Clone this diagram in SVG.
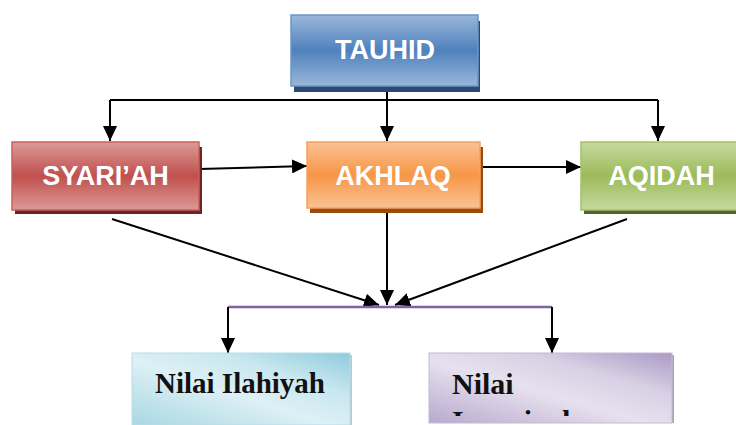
<svg xmlns="http://www.w3.org/2000/svg" width="736" height="425" viewBox="0 0 736 425">
<defs>
<linearGradient id="gBlue" x1="0" y1="0" x2="0" y2="1"><stop offset="0" stop-color="#9ab7da"/><stop offset="0.5" stop-color="#4f81bd"/><stop offset="1" stop-color="#9ab7da"/></linearGradient>
<linearGradient id="gRed" x1="0" y1="0" x2="0" y2="1"><stop offset="0" stop-color="#dc9a98"/><stop offset="0.5" stop-color="#c0504d"/><stop offset="1" stop-color="#dc9a98"/></linearGradient>
<linearGradient id="gOrange" x1="0" y1="0" x2="0" y2="1"><stop offset="0" stop-color="#fbc294"/><stop offset="0.5" stop-color="#f79646"/><stop offset="1" stop-color="#fbc294"/></linearGradient>
<linearGradient id="gGreen" x1="0" y1="0" x2="0" y2="1"><stop offset="0" stop-color="#c6d99f"/><stop offset="0.5" stop-color="#9bbb59"/><stop offset="1" stop-color="#c6d99f"/></linearGradient>
<linearGradient id="gCyan" x1="0" y1="1" x2="1" y2="0"><stop offset="0" stop-color="#a9d7e3"/><stop offset="0.45" stop-color="#ddf0f5"/><stop offset="0.7" stop-color="#c9e7ef"/><stop offset="1" stop-color="#8fcbdb"/></linearGradient>
<linearGradient id="gPurple" x1="0" y1="1" x2="1" y2="0"><stop offset="0" stop-color="#b9a9cd"/><stop offset="0.45" stop-color="#e6e1ee"/><stop offset="0.7" stop-color="#d8d0e4"/><stop offset="1" stop-color="#ab99c4"/></linearGradient>
<marker id="arr" markerUnits="userSpaceOnUse" markerWidth="16" markerHeight="14" refX="15" refY="7" orient="auto"><path d="M0,0 L15,7 L0,14 z" fill="#000"/></marker>
<clipPath id="clipIns"><rect x="429" y="353" width="243" height="63"/></clipPath>
</defs>
<style>
.lbl{font-family:"Liberation Sans",Arial,sans-serif;font-weight:bold;font-size:27px;fill:#fff;text-anchor:middle}
.ser{font-family:"Liberation Serif","Times New Roman",serif;font-weight:bold;font-size:30px;fill:#111}
.ln{stroke:#000;stroke-width:2;fill:none}
</style>
<g id="connectors">
<path class="ln" d="M387,86 V100"/>
<path class="ln" d="M110,100 H658"/>
<path class="ln" d="M110,100 V141" marker-end="url(#arr)"/>
<path class="ln" d="M387,100 V141" marker-end="url(#arr)"/>
<path class="ln" d="M658,100 V141" marker-end="url(#arr)"/>
<path class="ln" d="M199,169 L307,166" marker-end="url(#arr)"/>
<path class="ln" d="M480,167 L581,167" marker-end="url(#arr)"/>
<path class="ln" d="M112,219 L379,305" marker-end="url(#arr)"/>
<path class="ln" d="M387,213 V305" marker-end="url(#arr)"/>
<path class="ln" d="M627,219 L395,305" marker-end="url(#arr)"/>
<path d="M228,307 H552" stroke="#8064a2" stroke-width="2.5" fill="none"/>
<path class="ln" d="M228,307 V353" marker-end="url(#arr)"/>
<path class="ln" d="M552,307 V353" marker-end="url(#arr)"/>
</g>
<g id="tauhid">
<rect x="294" y="21" width="186" height="71" fill="#2b4a73"/>
<rect x="291" y="15" width="187" height="71" fill="url(#gBlue)" stroke="#6b95c9" stroke-width="1.5"/>
<text class="lbl" x="385" y="59">TAUHID</text>
</g>
<g id="syariah">
<rect x="15" y="147" width="187" height="67" fill="#6b2624"/>
<rect x="12" y="142" width="187" height="68" fill="url(#gRed)" stroke="#c8605d" stroke-width="1.5"/>
<text class="lbl" x="105.5" y="185">SYARI’AH</text>
</g>
<g id="akhlaq">
<rect x="310" y="147" width="173" height="66" fill="#9a4b0e"/>
<rect x="307" y="142" width="173" height="66" fill="url(#gOrange)" stroke="#f7a060" stroke-width="1.5"/>
<text class="lbl" x="393" y="185">AKHLAQ</text>
</g>
<g id="aqidah">
<rect x="584" y="147" width="160" height="67" fill="#506329"/>
<rect x="581" y="142" width="161" height="68" fill="url(#gGreen)" stroke="#a5c06a" stroke-width="1.5"/>
<text class="lbl" x="661.5" y="185">AQIDAH</text>
</g>
<g id="nilai-ilahiyah">
<rect x="134" y="355" width="218" height="70" fill="#b9c9cf"/>
<rect x="132" y="353" width="218" height="72" fill="url(#gCyan)" stroke="#b6dde8" stroke-width="1"/>
<text class="ser" x="155" y="393" textLength="170" lengthAdjust="spacingAndGlyphs">Nilai Ilahiyah</text>
</g>
<g id="nilai-insaniyah">
<rect x="431" y="355" width="243" height="68" fill="#a9a4b2"/>
<rect x="429" y="353" width="243" height="70" fill="url(#gPurple)" stroke="#c4b8d6" stroke-width="1"/>
<text class="ser" x="452" y="394">Nilai</text>
<g clip-path="url(#clipIns)"><text class="ser" x="452" y="431">Insaniyah</text></g>
</g>
</svg>
